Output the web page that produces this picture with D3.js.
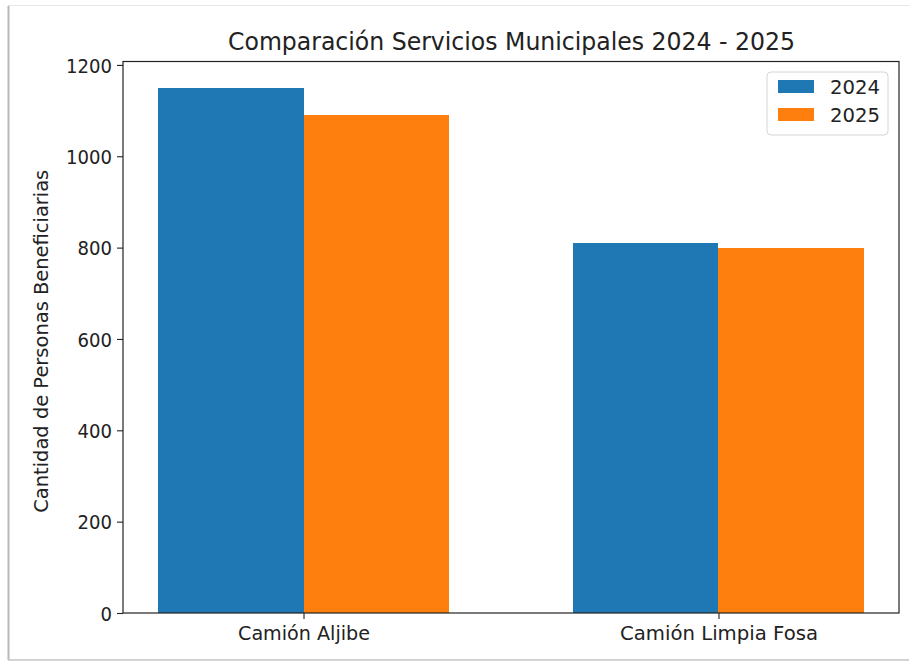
<!DOCTYPE html>
<html>
<head>
<meta charset="utf-8">
<script src="https://cdn.jsdelivr.net/npm/d3@7"></script>
<style>
  html, body { margin: 0; padding: 0; background: #fff; }
  svg { display: block; font-family: "DejaVu Sans", sans-serif; }
</style>
</head>
<body>
<div id="chart"></div>
<script>
// data
const categories = ["Camión Aljibe", "Camión Limpia Fosa"];
const seriesNames = ["2024", "2025"];
const values2024 = [1150, 810];
const values2025 = [1090, 800];
const yTicks = [0, 200, 400, 600, 800, 1000, 1200];

const W = 909, H = 667;
const colors = ["#1f77b4", "#ff7f0e"];
const barW = 0.35;

// plot box, in page pixels
const box = { left: 123, right: 899, top: 61.5, bottom: 613 };

const svg = d3.select("#chart").append("svg")
    .attr("width", W).attr("height", H)
    .attr("viewBox", `0 0 ${W} ${H}`);

// screenshot frame round the figure
svg.append("rect")
    .attr("x", 8.5).attr("y", 5.5)
    .attr("width", W).attr("height", 654)
    .attr("fill", "#fff").attr("stroke", "#e6e6e6").attr("stroke-width", 1);
svg.append("line")
    .attr("x1", 8.5).attr("x2", 8.5).attr("y1", 6).attr("y2", 660)
    .attr("stroke", "#b8b8b8").attr("stroke-width", 2);
svg.append("line")
    .attr("x1", 8).attr("x2", W).attr("y1", 660).attr("y2", 660)
    .attr("stroke", "#c8c8c8").attr("stroke-width", 1.5);

const x = d3.scaleLinear()
    .domain([-barW - 0.085, categories.length - 1 + barW + 0.085])
    .range([box.left, box.right]);
const y = d3.scaleLinear()
    .domain([0, d3.max(values2024.concat(values2025)) * 1.05])
    .range([box.bottom, box.top]);

const series = [values2024, values2025];
const offsets = [-barW, 0];

const g = svg.append("g").attr("shape-rendering", "crispEdges");
series.forEach((vals, si) => {
    g.selectAll(null).data(vals).enter().append("rect")
        .attr("x", (d, i) => x(i + offsets[si]))
        .attr("width", x(barW) - x(0))
        .attr("y", d => y(d))
        .attr("height", d => y(0) - y(d))
        .attr("fill", colors[si]);
});

// axes
const yAxis = svg.append("g")
    .attr("transform", `translate(${box.left},0)`)
    .call(d3.axisLeft(y).tickValues(yTicks).tickSize(6).tickPadding(5).tickFormat(d3.format("d")));
const xAxis = svg.append("g")
    .attr("transform", `translate(0,${box.bottom})`)
    .call(d3.axisBottom(x).tickValues(d3.range(categories.length)).tickSize(6).tickPadding(5)
        .tickFormat(i => categories[i]));

[yAxis, xAxis].forEach(a => {
    a.select(".domain").remove();
    a.selectAll(".tick line").attr("stroke", "#222").attr("stroke-width", 1.1);
    a.selectAll(".tick text").attr("fill", "#222").style("font-size", "20px")
        .style("font-family", "DejaVu Sans, sans-serif");
});
yAxis.selectAll(".tick text").attr("dy", "0.36em")
    .attr("lengthAdjust", "spacingAndGlyphs")
    .attr("textLength", d => String(d).length * 11.5);
xAxis.selectAll(".tick text").attr("dy", "0.8em")
    .attr("textLength", (d, i) => [132, 198][i]).attr("lengthAdjust", "spacingAndGlyphs");

// spines
svg.append("rect")
    .attr("x", box.left).attr("y", box.top)
    .attr("width", box.right - box.left).attr("height", box.bottom - box.top)
    .attr("fill", "none").attr("stroke", "#222").attr("stroke-width", 1.2);

// title
svg.append("text")
    .attr("x", (box.left + box.right) / 2 + 0.5).attr("y", 50)
    .attr("text-anchor", "middle")
    .attr("textLength", 567).attr("lengthAdjust", "spacingAndGlyphs")
    .style("font-size", "24px").attr("fill", "#222")
    .text("Comparación Servicios Municipales 2024 - 2025");

// y label
svg.append("text")
    .attr("transform", `translate(48,${(box.top + box.bottom) / 2 + 4}) rotate(-90)`)
    .attr("text-anchor", "middle")
    .attr("textLength", 343).attr("lengthAdjust", "spacingAndGlyphs")
    .style("font-size", "20px").attr("fill", "#222")
    .text("Cantidad de Personas Beneficiarias");

// legend
const lg = svg.append("g").attr("transform", "translate(767,72)");
lg.append("rect")
    .attr("width", 121).attr("height", 63).attr("rx", 4)
    .attr("fill", "#fff").attr("fill-opacity", 0.8)
    .attr("stroke", "#d6d6d6");
seriesNames.forEach((name, i) => {
    const row = lg.append("g").attr("transform", `translate(11,${8 + i * 28})`);
    row.append("rect").attr("width", 36).attr("height", 13).attr("fill", colors[i]);
    row.append("text")
        .attr("x", 52).attr("y", 6.5).attr("dy", "0.36em")
        .attr("textLength", 50).attr("lengthAdjust", "spacingAndGlyphs")
        .style("font-size", "20px").attr("fill", "#222")
        .text(name);
});
</script>
</body>
</html>
